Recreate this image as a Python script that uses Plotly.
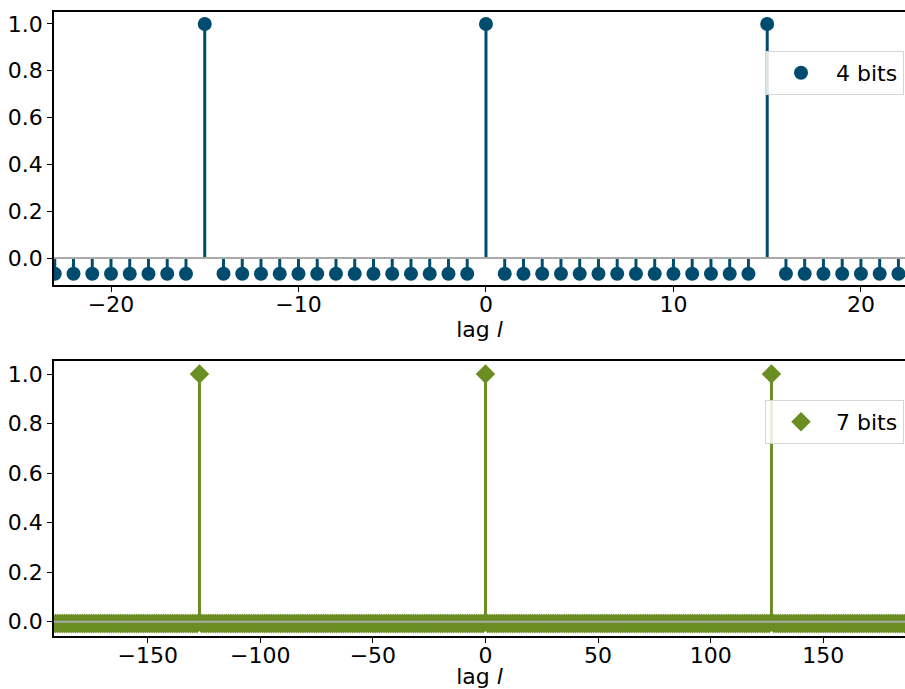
import plotly.graph_objects as go

# ---- data ----
lags_4bit = list(range(-30, 31))
peaks_4bit = [-15, 0, 15]
off_peak_4bit = -0.0667          # off-peak autocorrelation level, 4 bits
values_4bit = [1.0 if l in peaks_4bit else off_peak_4bit for l in lags_4bit]

lags_7bit = list(range(-200, 201))
peaks_7bit = [-127, 0, 127]
off_peak_7bit = -0.0079          # off-peak autocorrelation level, 7 bits
values_7bit = [1.0 if l in peaks_7bit else off_peak_7bit for l in lags_7bit]

xticks_top = [-20, -10, 0, 10, 20]
xticks_bottom = [-150, -100, -50, 0, 50, 100, 150]
yticks = [0.0, 0.2, 0.4, 0.6, 0.8, 1.0]

BLUE = "#004c6f"
GREEN = "#6b8e23"
BASE = "#aaaaaa"
FONT = "DejaVu Sans"
FS = 22


def stem_xy(xs, ys):
    sx, sy = [], []
    for x, y in zip(xs, ys):
        sx += [x, x, None]
        sy += [0, y, None]
    return sx, sy


fig = go.Figure()

# top panel
sx, sy = stem_xy(lags_4bit, values_4bit)
fig.add_trace(go.Scatter(x=sx, y=sy, mode="lines", line=dict(color=BLUE, width=3),
                         showlegend=False, hoverinfo="skip", xaxis="x", yaxis="y"))
fig.add_trace(go.Scatter(x=lags_4bit, y=values_4bit, mode="markers", name="4 bits",
                         marker=dict(symbol="circle", size=14, color=BLUE, line=dict(width=0)),
                         xaxis="x", yaxis="y", legend="legend"))
fig.add_trace(go.Scatter(x=[min(lags_4bit), max(lags_4bit)], y=[0, 0], mode="lines",
                         line=dict(color=BASE, width=2), showlegend=False,
                         hoverinfo="skip", xaxis="x", yaxis="y"))

# bottom panel
sx, sy = stem_xy(lags_7bit, values_7bit)
fig.add_trace(go.Scatter(x=sx, y=sy, mode="lines", line=dict(color=GREEN, width=3),
                         showlegend=False, hoverinfo="skip", xaxis="x2", yaxis="y2"))
fig.add_trace(go.Scatter(x=lags_7bit, y=values_7bit, mode="markers", name="7 bits",
                         marker=dict(symbol="diamond", size=15, color=GREEN, line=dict(width=0)),
                         xaxis="x2", yaxis="y2", legend="legend2"))
fig.add_trace(go.Scatter(x=[min(lags_7bit), max(lags_7bit)], y=[0, 0], mode="lines",
                         line=dict(color=BASE, width=2), showlegend=False,
                         hoverinfo="skip", xaxis="x2", yaxis="y2"))

axis_common = dict(showline=True, linecolor="black", linewidth=1.5, ticks="outside",
                   ticklen=5, tickwidth=1.2, tickcolor="black", showgrid=False,
                   zeroline=False, automargin=False,
                   tickfont=dict(family=FONT, size=FS, color="black"))

legend_common = dict(xanchor="right", x=904 / 905, yanchor="top", bgcolor="rgba(255,255,255,0.85)",
                     bordercolor="#d5d5d5", borderwidth=1, itemwidth=60,
                     font=dict(family=FONT, size=FS, color="black"))

title_font = dict(family=FONT, size=FS, color="black")

fig.update_layout(
    width=905, height=689,
    margin=dict(l=0, r=0, t=0, b=0),
    paper_bgcolor="white", plot_bgcolor="white",
    font=dict(family=FONT, size=FS, color="black"),
    xaxis=dict(domain=[54 / 905, 1], anchor="y", range=[-23.04, 22.35],
               tickvals=xticks_top, mirror=True, ticklabelstandoff=-6,
               title=dict(text="lag <i>l</i>", standoff=0, font=title_font),
               **axis_common),
    yaxis=dict(domain=[1 - 285 / 689, 1 - 12 / 689], anchor="x", range=[-0.115, 1.051],
               tickvals=yticks, tickformat=".1f", **axis_common),
    xaxis2=dict(domain=[54 / 905, 1], anchor="y2", range=[-191.6, 186.3],
                tickvals=xticks_bottom, mirror=True, ticklabelstandoff=-6,
                title=dict(text="lag <i>l</i>", standoff=0, font=title_font),
                **axis_common),
    yaxis2=dict(domain=[1 - 636 / 689, 1 - 361 / 689], anchor="x2", range=[-0.058, 1.053],
                tickvals=yticks, tickformat=".1f", **axis_common),
    legend=dict(y=1 - 51 / 689, **legend_common),
    legend2=dict(y=1 - 400 / 689, **legend_common),
)

fig.write_html(
    "out.html",
    config={"displayModeBar": False},
    post_script="document.body.style.margin='0';document.body.style.overflow='hidden';",
)
